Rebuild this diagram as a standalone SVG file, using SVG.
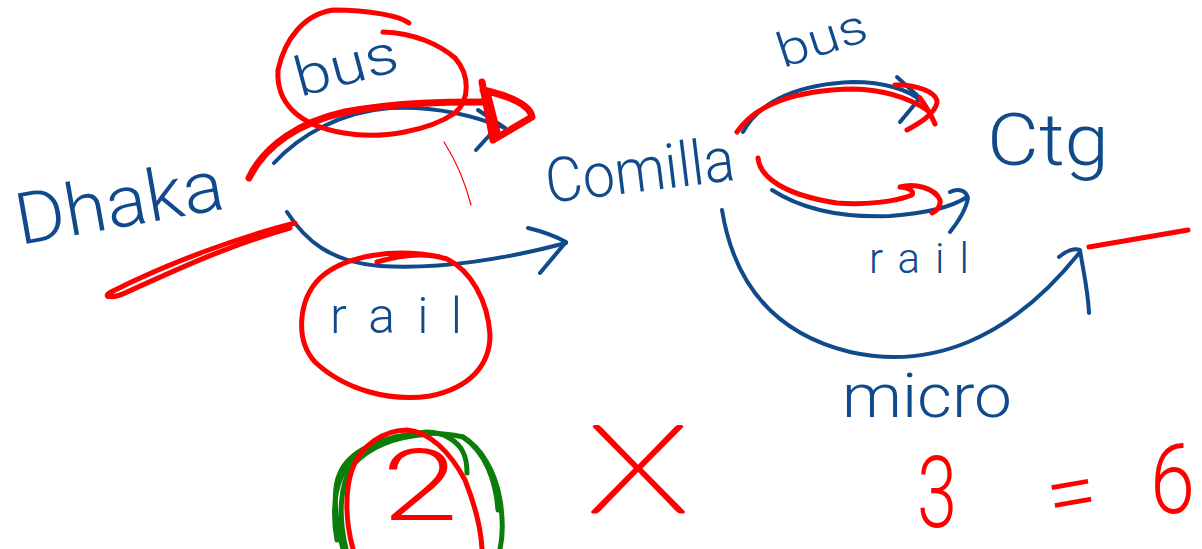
<svg xmlns="http://www.w3.org/2000/svg" width="1202" height="549" viewBox="0 0 1202 549">
  <defs>
    <style>
      .ink { fill: none; stroke-linecap: round; stroke-linejoin: round; }
      .blue { stroke: #114a8b; stroke-width: 4; }
      .red { stroke: #ff0000; stroke-width: 5; }
      .red-thick { stroke: #ff0000; stroke-width: 7; }
      .red-thin { stroke: #ff0000; stroke-width: 1.2; }
      .green { stroke: #0b7d0b; stroke-width: 5; }
      .hand { font-family: Roboto, "Liberation Sans", sans-serif; font-weight: 300; }
      .hand-blue { fill: #114a8b; }
      .hand-red { fill: #ff0000; }
      .hair { font-family: Lato, Roboto, "Liberation Sans", sans-serif; font-weight: 200; stroke: #ff0000; stroke-width: 3; stroke-linejoin: round; }
    </style>
  </defs>
  <rect width="1202" height="549" fill="#ffffff"/>

  <!-- places -->
  <g id="node-dhaka">
    <text class="hand hand-blue" x="20" y="245" font-size="72" textLength="210" lengthAdjust="spacingAndGlyphs" transform="rotate(-10 20 245)">Dhaka</text>
  </g>
  <g id="node-comilla">
    <text class="hand hand-blue" x="548" y="203" font-size="62" textLength="190" lengthAdjust="spacingAndGlyphs" transform="rotate(-7 548 203)">Comilla</text>
  </g>
  <g id="node-ctg">
    <text class="hand hand-blue" x="987" y="165" font-size="72" textLength="122" lengthAdjust="spacingAndGlyphs">Ctg</text>
  </g>

  <!-- routes -->
  <g id="connectors">
    <!-- Dhaka to Comilla: bus -->
    <path class="ink blue" d="M274,163 C300,135 340,112 390,108 C430,106 470,114 505,128"/>
    <path class="ink blue" d="M476,150 L497,127 M478,110 L505,128"/>
    <text class="hand hand-blue" x="300" y="97" font-size="55" textLength="105" lengthAdjust="spacingAndGlyphs" transform="rotate(-15 300 97)">bus</text>
    <!-- Dhaka to Comilla: rail -->
    <path class="ink blue" d="M287,212 C305,240 330,262 380,266 C440,270 510,258 566,243"/>
    <path class="ink blue" d="M528,228 C545,232 555,236 566,242 L540,273"/>
    <text class="hand hand-blue" x="330" y="333" font-size="50" textLength="132" lengthAdjust="spacing">rail</text>
    <!-- Comilla to Ctg: bus -->
    <path class="ink blue" d="M743,132 C760,100 800,84 853,82 C885,82 908,90 920,100"/>
    <path class="ink blue" d="M897,77 L920,98 L900,122"/>
    <text class="hand hand-blue" x="783" y="68" font-size="48" textLength="92" lengthAdjust="spacingAndGlyphs" transform="rotate(-18 783 68)">bus</text>
    <!-- Comilla to Ctg: rail -->
    <path class="ink blue" d="M772,190 C800,208 840,218 890,216 C930,213 955,205 967,197"/>
    <path class="ink blue" d="M950,192 C958,188 966,190 968,198 C966,210 958,222 950,232"/>
    <text class="hand hand-blue" x="869" y="273" font-size="42" textLength="100" lengthAdjust="spacing">rail</text>
    <!-- Comilla to Ctg: micro -->
    <path class="ink blue" d="M722,210 C735,290 780,335 850,352 C930,370 1010,340 1080,252"/>
    <path class="ink blue" d="M1059,257 C1067,250 1075,248 1080,250 C1083,270 1088,290 1089,313"/>
    <text class="hand hand-blue" x="842" y="417" font-size="62" textLength="170" lengthAdjust="spacingAndGlyphs">micro</text>
  </g>

  <!-- red marks over the routes -->
  <g id="red-marks">
    <!-- ring round the first bus -->
    <path class="ink red" d="M409,23 C400,16 370,10 333,10 C305,14 285,38 278,70 C276,100 295,125 344,133 C383,140 430,130 455,113 C470,100 470,75 455,58 C440,45 415,33 383,32"/>
    <!-- traced bus arrow -->
    <path class="ink red-thick" d="M249,178 C265,145 300,122 345,112 C400,102 450,102 483,102"/>
    <path class="ink red-thick" d="M482,82 L493,140 L532,117 C530,105 510,96 483,90 M488,96 L497,132"/>
    <path class="ink red-thin" d="M444,142 Q462,170 471,205"/>
    <!-- strike under Dhaka -->
    <path class="ink red" stroke-width="6" d="M295,223 C240,237 170,262 111,292 C100,298 115,298 125,293 C180,268 230,245 290,228"/>
    <!-- ring round the first rail -->
    <path class="ink red" d="M377,262 C400,255 425,252 447,259 C470,270 488,300 490,335 C490,365 470,388 430,396 C390,402 345,390 315,362 C295,340 298,300 320,278 C345,255 395,248 440,257"/>
    <!-- traced Comilla arrows -->
    <path class="ink red" d="M737,132 C755,105 795,90 853,89 C890,90 912,100 927,110"/>
    <path class="ink red" d="M895,85 C915,84 938,92 937,103 C934,115 918,124 907,130 M935,124 C930,112 925,105 920,98"/>
    <path class="ink red" d="M758,158 C760,178 785,195 837,203 C865,205 895,202 912,195 C915,190 905,187 900,187 C915,183 935,188 940,200 C941,207 936,211 932,213"/>
    <!-- dash by Ctg -->
    <path class="ink red" stroke-width="8" d="M1089,247 L1188,230"/>
  </g>

  <!-- count of routes -->
  <g id="equation">
    <path class="ink green" d="M343,549 C335,520 332,490 340,473 C350,450 380,437 427,432 C445,432 458,442 463,452 C467,460 467,468 467,473"/>
    <path class="ink green" d="M337,540 C330,500 338,470 360,453 C390,432 430,430 463,437 C480,447 495,470 500,500 C504,525 502,540 500,549"/>
    <path class="ink green" d="M346,549 C338,515 340,485 352,466 C370,445 400,436 430,434"/>
    <path class="ink green" d="M463,437 C485,452 496,480 498,510"/>
    <path class="ink red" d="M353,549 C345,520 345,490 352,470 C360,445 385,430 407,430 C430,432 450,452 465,480 C475,505 481,530 482,549"/>
    <text class="hand hand-red" x="382" y="520" font-size="100" textLength="76" lengthAdjust="spacingAndGlyphs">2</text>
    <text class="hair hand-red" x="586" y="512" font-size="175" textLength="104" lengthAdjust="spacingAndGlyphs">x</text>
    <text class="hand hand-red" x="917" y="527" font-size="100" textLength="40" lengthAdjust="spacingAndGlyphs">3</text>
    <text class="hand hand-red" x="1052" y="527" font-size="90" textLength="50" lengthAdjust="spacingAndGlyphs" transform="rotate(-10 1052 527)">=</text>
    <text class="hand hand-red" x="1150" y="513" font-size="98" textLength="45" lengthAdjust="spacingAndGlyphs">6</text>
  </g>
</svg>
